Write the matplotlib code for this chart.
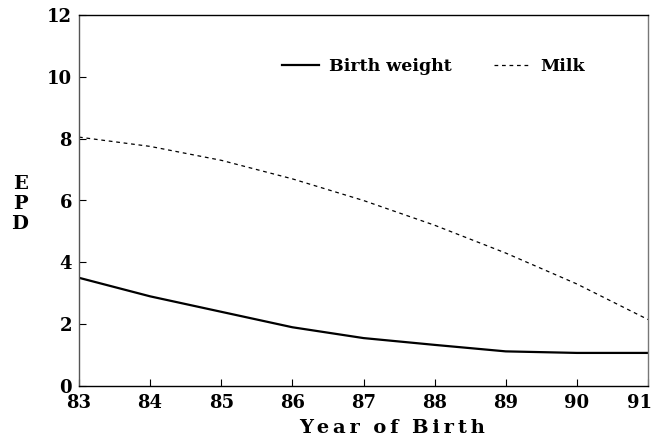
import matplotlib.pyplot as plt
import matplotlib.transforms as mtransforms
import numpy as np

# year of birth and EPD values
years = [83, 84, 85, 86, 87, 88, 89, 90, 91]
birth_weight = [3.5, 2.9, 2.4, 1.9, 1.55, 1.33, 1.12, 1.07, 1.07]
milk = [8.05, 7.75, 7.3, 6.7, 6.0, 5.2, 4.3, 3.3, 2.15]

plt.rcParams['font.family'] = ['DejaVu Serif']

fig = plt.figure(figsize=(6.58, 4.44), dpi=100)
ax = fig.add_axes([79 / 658, 1 - 386 / 444, (648 - 79) / 658, (386 - 15) / 444])

ax.plot(years, birth_weight, color='black', lw=1.6, label='Birth weight')
ax.plot(years, milk, color='black', lw=0.9, ls=(0, (3, 3)), label='Milk')

ax.set_xlim(83, 91)
ax.set_ylim(0, 12)
ax.set_xticks(years)
ax.set_yticks(np.arange(0, 13, 2))
ax.tick_params(direction='in', length=5, width=0.8, labelsize=13)
ax.tick_params(axis='x', pad=6)
ax.tick_params(axis='y', pad=5)
for lab in ax.get_xticklabels() + ax.get_yticklabels():
    lab.set_fontweight('bold')
# last year label pulled in a bit so it stays inside the figure
last = ax.get_xticklabels()[-1]
last.set_transform(last.get_transform() + mtransforms.ScaledTranslation(-8 / 100, 0, fig.dpi_scale_trans))

for s in ax.spines.values():
    s.set_linewidth(1.0)
ax.spines['left'].set_color('#555555')
ax.spines['right'].set_color('#777777')

ts = '\u2009'
fig.text(392 / 658, 1 - 428 / 444, ts.join('Year') + '  ' + ts.join('of') + '  ' + ts.join('Birth'),
         fontsize=14, fontweight='bold', ha='center', va='center')
fig.text(20 / 658, 1 - 204 / 444, 'E\nP\nD', fontsize=14, fontweight='bold',
         ha='center', va='center', linespacing=1.17)

leg = ax.legend(loc='upper left', bbox_to_anchor=(0.33, 0.927), ncol=2, frameon=False,
                handlelength=2.1, columnspacing=2.4, handletextpad=0.6,
                prop={'size': 12.5, 'weight': 'bold'})

fig.savefig('out.png', dpi=100)
